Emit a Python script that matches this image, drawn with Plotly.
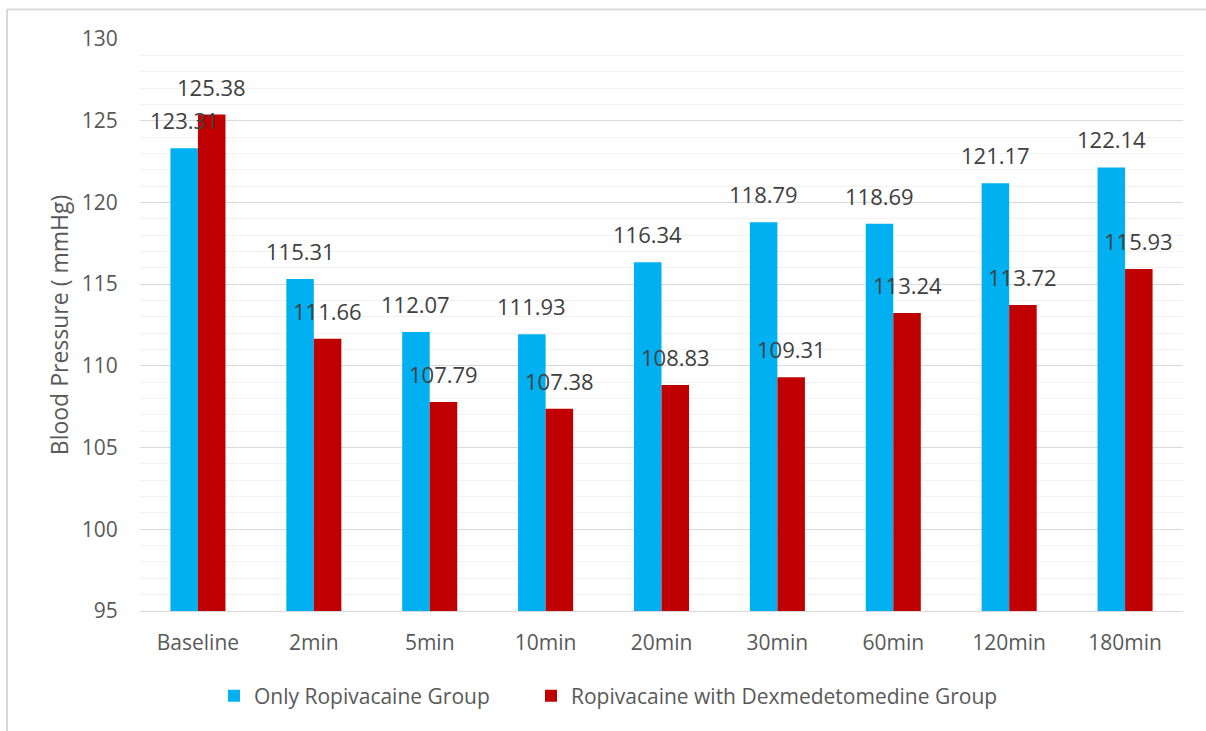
import plotly.graph_objects as go

categories = ["Baseline", "2min", "5min", "10min", "20min", "30min", "60min", "120min", "180min"]
only_ropivacaine = [123.31, 115.31, 112.07, 111.93, 116.34, 118.79, 118.69, 121.17, 122.14]
ropi_dexmed = [125.38, 111.66, 107.79, 107.38, 108.83, 109.31, 113.24, 113.72, 115.93]
series_names = ["Only Ropivacaine Group", "Ropivacaine with Dexmedetomedine Group"]
y_ticks = [95, 100, 105, 110, 115, 120, 125, 130]

BLUE = "#00B0F0"
RED = "#C00000"
FONT = "Open Sans"
TEXT = "#595959"

W, H = 1206, 731
ML, MR, MT, MB = 140, 23, 39, 120
plot_w = W - ML - MR
plot_h = H - MT - MB
BARGAP = 0.525
bar_px = plot_w / len(categories) * (1 - BARGAP) / 2


def px_to_paper_x(px):
    return (px - ML) / plot_w


def px_to_paper_y(py):
    return 1 - (py - MT) / plot_h


fig = go.Figure()
fig.add_trace(go.Bar(x=categories, y=only_ropivacaine, name=series_names[0],
                     marker=dict(color=BLUE, line=dict(width=0)), legend="legend"))
fig.add_trace(go.Bar(x=categories, y=ropi_dexmed, name=series_names[1],
                     marker=dict(color=RED, line=dict(width=0)), legend="legend2"))

# value labels above each bar
for vals, shift in ((only_ropivacaine, -bar_px / 2), (ropi_dexmed, bar_px / 2)):
    for c, v in zip(categories, vals):
        fig.add_annotation(x=c, y=v, xref="x", yref="y", text=f"{v:.2f}",
                           showarrow=False, xshift=shift, yanchor="bottom", yshift=11,
                           font=dict(family=FONT, size=22, color="#404040"))

# outer chart frame (left and top edges)
frame = dict(color="#D9D9D9", width=2)
fig.add_shape(type="line", xref="paper", yref="paper",
              x0=px_to_paper_x(7), x1=px_to_paper_x(1210),
              y0=px_to_paper_y(9.5), y1=px_to_paper_y(9.5), line=frame)
fig.add_shape(type="line", xref="paper", yref="paper",
              x0=px_to_paper_x(7), x1=px_to_paper_x(7),
              y0=px_to_paper_y(9.5), y1=px_to_paper_y(740), line=frame)

legend_common = dict(orientation="h", xanchor="left", yanchor="middle",
                     y=px_to_paper_y(696), itemwidth=30,
                     font=dict(family=FONT, size=21, color=TEXT),
                     bgcolor="rgba(0,0,0,0)")

fig.update_layout(
    width=W, height=H,
    margin=dict(l=ML, r=MR, t=MT, b=MB),
    paper_bgcolor="white", plot_bgcolor="white",
    barmode="group", bargap=BARGAP, bargroupgap=0,
    font=dict(family=FONT, size=21, color=TEXT),
    showlegend=True,
    legend=dict(x=px_to_paper_x(214), **legend_common),
    legend2=dict(x=px_to_paper_x(531), **legend_common),
)
fig.update_xaxes(showgrid=False, showline=True, linecolor="#D9D9D9", linewidth=1,
                 ticks="outside", ticklen=13, tickcolor="rgba(0,0,0,0)",
                 tickfont=dict(family=FONT, size=21, color=TEXT))
fig.update_yaxes(range=[95, 130], tickvals=y_ticks, showgrid=True, gridcolor="#D9D9D9",
                 gridwidth=1, zeroline=False, showline=False,
                 minor=dict(dtick=1, showgrid=True, gridcolor="#F2F2F2", gridwidth=1),
                 ticks="outside", ticklen=17, tickcolor="rgba(0,0,0,0)",
                 tickfont=dict(family=FONT, size=21, color=TEXT),
                 title=dict(text="Blood Pressure ( mmHg)", standoff=6,
                            font=dict(family=FONT, size=23, color=TEXT)))

fig.write_html("out.html")
